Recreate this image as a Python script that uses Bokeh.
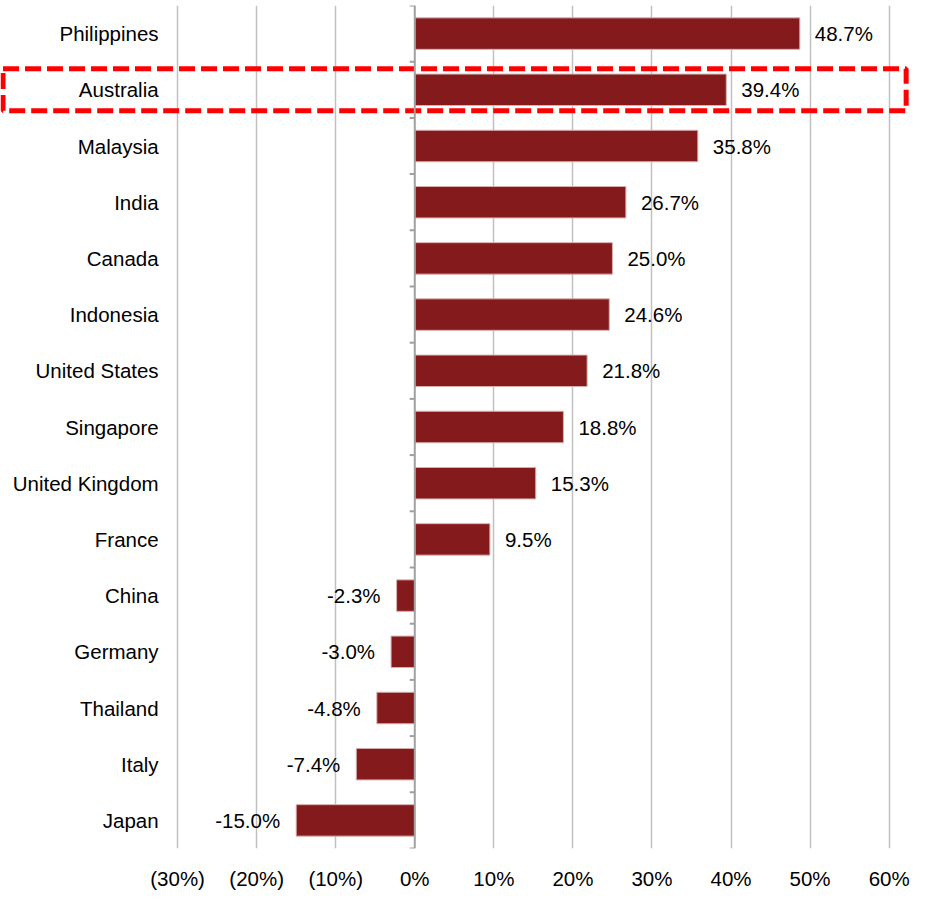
from bokeh.plotting import figure
from bokeh.models import Range1d, FixedTicker, Span, CustomJSTickFormatter, ColumnDataSource, LinearAxis
from bokeh.core.properties import value
from bokeh.embed import file_html
from bokeh.resources import INLINE

countries = ["Philippines", "Australia", "Malaysia", "India", "Canada", "Indonesia",
             "United States", "Singapore", "United Kingdom", "France", "China",
             "Germany", "Thailand", "Italy", "Japan"]
growth = [48.7, 39.4, 35.8, 26.7, 25.0, 24.6, 21.8, 18.8, 15.3, 9.5,
          -2.3, -3.0, -4.8, -7.4, -15.0]
x_ticks = [-30, -20, -10, 0, 10, 20, 30, 40, 50, 60]
highlight = "Australia"

FONT = "Liberation Sans"
FS = "20.5px"
BAR = "#841A1C"

n = len(countries)
idx = list(range(n))

p = figure(width=910, height=892, output_backend="svg", toolbar_location=None,
           x_range=Range1d(-52.4, 62.7), y_range=Range1d(n - 0.5, -0.5),
           min_border_left=0, min_border_right=0, min_border_top=5, min_border_bottom=38)
p.outline_line_color = None
p.yaxis.visible = False
p.ygrid.visible = False

xa = p.xaxis[0]
xa.ticker = FixedTicker(ticks=x_ticks)
xa.formatter = CustomJSTickFormatter(code="return tick < 0 ? '(' + Math.abs(tick) + '%)' : tick + '%';")
xa.axis_line_color = None
xa.major_tick_line_color = None
xa.minor_tick_line_color = None
xa.major_label_text_font = FONT
xa.major_label_text_font_size = FS
xa.major_label_text_color = "#000000"
xa.major_label_standoff = 12

p.xgrid.ticker = FixedTicker(ticks=[t for t in x_ticks if t != 0])
p.xgrid.grid_line_color = "#c0c0c0"
p.xgrid.grid_line_width = 1.5

# bars
src = ColumnDataSource(dict(y=idx, v=growth, name=countries,
                            lbl=[f"{v:.1f}%" for v in growth]))
p.hbar(y="y", left=0, right="v", height=0.56, source=src,
       fill_color=BAR, line_color="#d8b0b0", line_width=1)

# zero axis line with boundary ticks
p.add_layout(Span(location=0, dimension="height", line_color="#a0a0a0", line_width=2))
bounds = [i - 0.5 for i in range(n + 1)]
p.segment(x0=[0] * len(bounds), x1=[-0.65] * len(bounds), y0=bounds, y1=bounds,
          line_color="#a0a0a0", line_width=2)

# value labels
pos = ColumnDataSource(dict(x=[v for v in growth if v >= 0], y=[i for i, v in zip(idx, growth) if v >= 0],
                            t=[f"{v:.1f}%" for v in growth if v >= 0]))
neg = ColumnDataSource(dict(x=[v for v in growth if v < 0], y=[i for i, v in zip(idx, growth) if v < 0],
                            t=[f"{v:.1f}%" for v in growth if v < 0]))
p.text(x="x", y="y", text="t", source=pos, x_offset=15, text_align="left", text_baseline="middle",
       text_font=value(FONT), text_font_size=FS, text_color="#000000")
p.text(x="x", y="y", text="t", source=neg, x_offset=-16, text_align="right", text_baseline="middle",
       text_font=value(FONT), text_font_size=FS, text_color="#000000")

# category labels
label_x = x_ticks[0] - 2.4
p.text(x=[label_x] * n, y=idx, text=countries, text_align="right", text_baseline="middle",
       text_font=value(FONT), text_font_size=FS, text_color="#000000")

# highlight box
hi = countries.index(highlight)
p.quad(left=[p.x_range.start + 0.32], right=[p.x_range.end - 0.55],
       top=[hi - 0.373], bottom=[hi + 0.373],
       fill_color=None, line_color="#ff0000", line_width=5, line_dash="16 6")

open("out.html", "w").write(file_html(p, INLINE))
